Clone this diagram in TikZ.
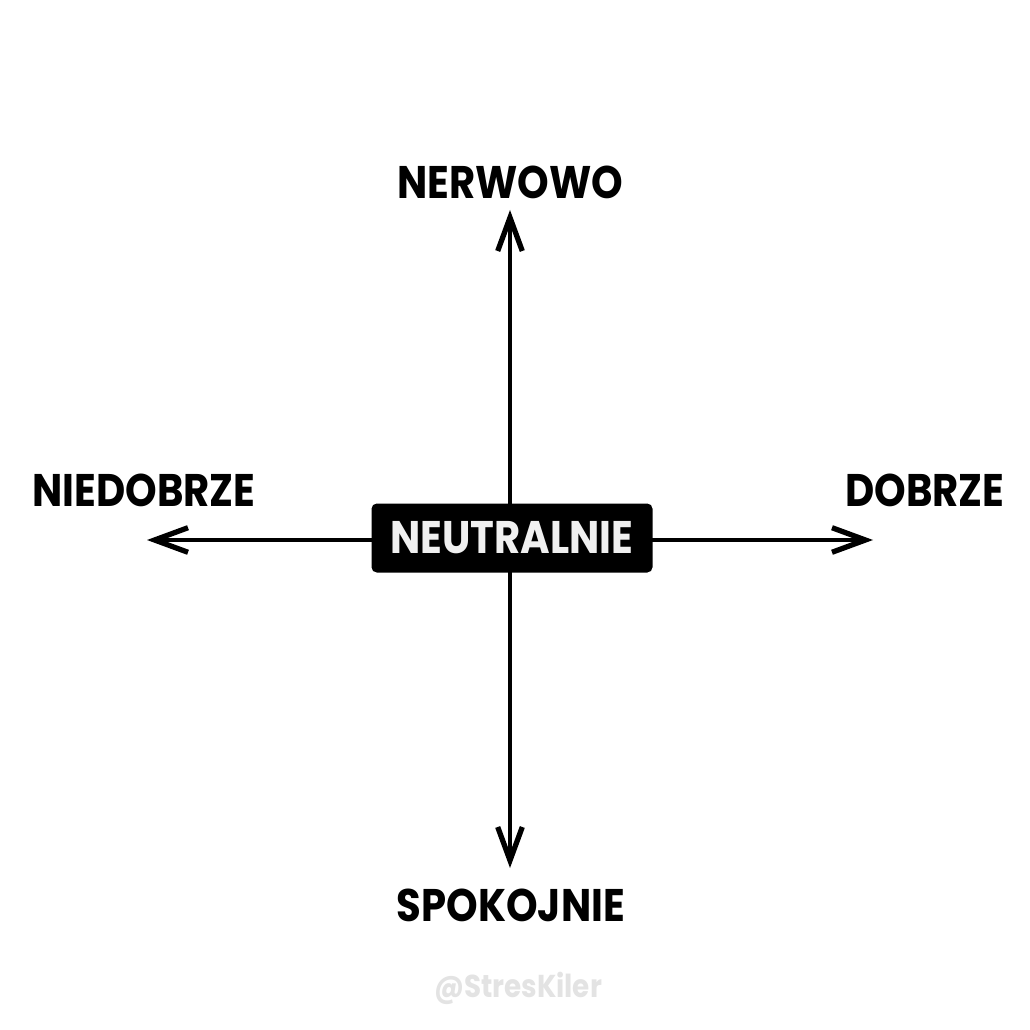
\documentclass[tikz,border=0pt]{standalone}
\usepackage{fontspec}
\setmainfont{Poppins}[FakeStretch=0.88]
\usetikzlibrary{arrows.meta}

\tikzset{
  axis/.style={line width=2.2pt, -{Straight Barb[length=19pt, width=14pt, line width=3pt]}},
  lbl/.style={font=\fontsize{26}{26}\selectfont\bfseries},
  centrebox/.style={fill=black, rounded corners=3pt, minimum width=281*0.02cm,
    minimum height=69*0.02cm, text=white!94!black, inner sep=0pt,
    font=\fontsize{26}{26}\selectfont\bfseries},
}

\begin{document}
\begin{tikzpicture}[x=0.02cm, y=-0.02cm]
  \useasboundingbox[fill=white] (0,0) rectangle (1030,1030);

  \coordinate (up) at (510,210);
  \coordinate (down) at (510,868);
  \coordinate (left) at (147,540);
  \coordinate (right) at (873,540);

  \draw[axis] (510,540) -- (up);
  \draw[axis] (510,540) -- (down);
  \draw[axis] (510,540) -- (left);
  \draw[axis] (510,540) -- (right);

  \node[centrebox] (neutral) at (512,538) {NEUTRALNIE};

  \node[lbl] (nerv) at (510,182) {NERWOWO};
  \node[lbl] (calm) at (511,905) {SPOKOJNIE};
  \node[lbl] (bad) at (144,490) {NIEDOBRZE};
  \node[lbl] (good) at (925,490) {DOBRZE};

  \node[text=black!11, font=\fontsize{18}{18}\selectfont\bfseries] (tag) at (518,988) {@StresKiler};
\end{tikzpicture}
\end{document}
